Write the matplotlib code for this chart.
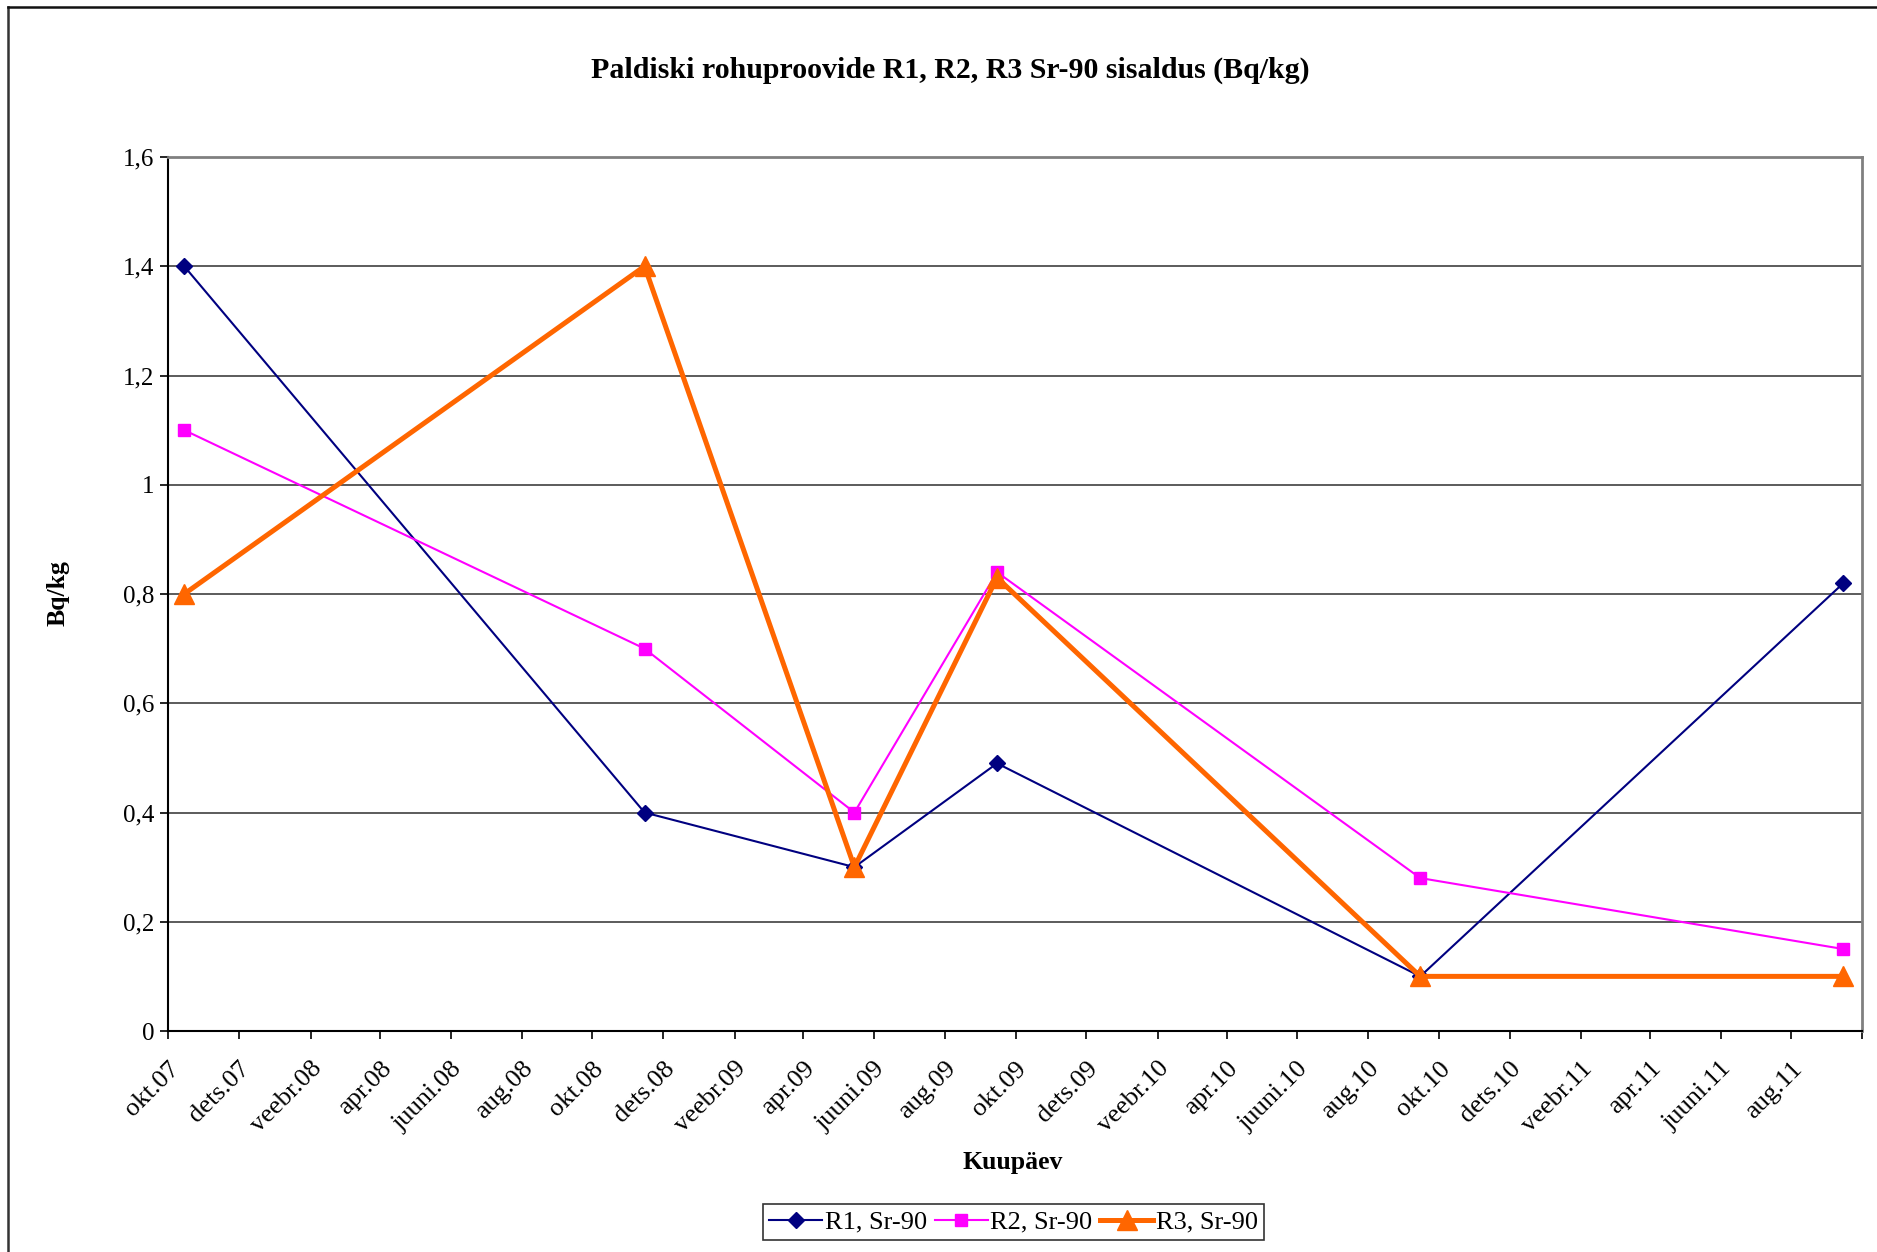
import matplotlib
matplotlib.use("Agg")
import matplotlib.pyplot as plt
import matplotlib.dates as mdates
from matplotlib.lines import Line2D
import pandas as pd

plt.rcParams['font.family'] = ['Liberation Serif', 'DejaVu Serif']

# sample dates (mid-month)
dates = pd.to_datetime(['2007-10-15', '2008-11-15', '2009-05-15',
                        '2009-09-15', '2010-09-15', '2011-09-15'])
r1 = [1.4, 0.4, 0.3, 0.49, 0.1, 0.82]
r2 = [1.1, 0.7, 0.4, 0.84, 0.28, 0.15]
r3 = [0.8, 1.4, 0.3, 0.83, 0.1, 0.1]

tick_labels = ['okt.07', 'dets.07', 'veebr.08', 'apr.08', 'juuni.08', 'aug.08',
               'okt.08', 'dets.08', 'veebr.09', 'apr.09', 'juuni.09', 'aug.09',
               'okt.09', 'dets.09', 'veebr.10', 'apr.10', 'juuni.10', 'aug.10',
               'okt.10', 'dets.10', 'veebr.11', 'apr.11', 'juuni.11', 'aug.11', '']
y_ticks = [0, 0.2, 0.4, 0.6, 0.8, 1, 1.2, 1.4, 1.6]
y_labels = ['0', '0,2', '0,4', '0,6', '0,8', '1', '1,2', '1,4', '1,6']

fig = plt.figure(figsize=(18.77, 12.52), dpi=100)
ax = fig.add_axes([168 / 1877, 1 - 1031 / 1252, (1862 - 168) / 1877, (1031 - 157) / 1252])

# outer frame of the chart (only top and left are visible in the crop)
fig.add_artist(Line2D([8 / 1877, 8 / 1877], [0, 1 - 7 / 1252], transform=fig.transFigure,
                      color='#333333', lw=1.8))
fig.add_artist(Line2D([8 / 1877, 1], [1 - 7 / 1252, 1 - 7 / 1252], transform=fig.transFigure,
                      color='#111111', lw=1.8))

ax.plot(dates, r1, color='#000080', lw=1.5, marker='D', ms=8, label='R1, Sr-90', zorder=3)
ax.plot(dates, r2, color='#FF00FF', lw=1.5, marker='s', ms=9, label='R2, Sr-90', zorder=3)
ax.plot(dates, r3, color='#FF6600', lw=3.6, marker='^', ms=14, label='R3, Sr-90', zorder=4)

ax.set_ylim(0, 1.6)
ax.set_yticks(y_ticks)
ax.set_yticklabels(y_labels, fontsize=18)
ax.yaxis.grid(True, color='#404040', lw=1.2)
ax.set_axisbelow(True)

tick_dates = pd.date_range('2007-10-01', '2011-10-01', freq='2MS')
ax.set_xlim(tick_dates[0], tick_dates[-1])
ax.set_xticks(mdates.date2num(tick_dates))
ax.set_xticklabels(tick_labels, fontsize=19, rotation=45, ha='right', rotation_mode='anchor')

ax.tick_params(axis='both', direction='out', length=6, width=1.2, color='black')
ax.tick_params(axis='x', pad=13)
ax.tick_params(axis='y', pad=4)

ax.spines['left'].set_color('black')
ax.spines['left'].set_linewidth(1.5)
ax.spines['bottom'].set_color('black')
ax.spines['bottom'].set_linewidth(1.5)
ax.spines['top'].set_color('#808080')
ax.spines['top'].set_linewidth(2)
ax.spines['right'].set_color('#808080')
ax.spines['right'].set_linewidth(2)

fig.text(950 / 1877, 1 - 70 / 1252, 'Paldiski rohuproovide R1, R2, R3 Sr-90 sisaldus (Bq/kg)',
         ha='center', va='center', fontsize=21.5, fontweight='bold')
fig.text(1013 / 1877, 1 - 1162 / 1252, 'Kuupäev', ha='center', va='center',
         fontsize=18.5, fontweight='bold')
fig.text(58 / 1877, 1 - 593 / 1252, 'Bq/kg', ha='center', va='center', rotation=90,
         fontsize=18.5, fontweight='bold')

leg = ax.legend(loc='center', bbox_to_anchor=(1013.5 / 1877, 1 - 1222 / 1252),
                bbox_transform=fig.transFigure, ncol=3, fontsize=19, frameon=True,
                fancybox=False, edgecolor='black', handlelength=2.0, handletextpad=0.1,
                columnspacing=0.3, borderpad=0.25, borderaxespad=0)
leg.get_frame().set_linewidth(1.2)

fig.savefig('out.png', dpi=100)
